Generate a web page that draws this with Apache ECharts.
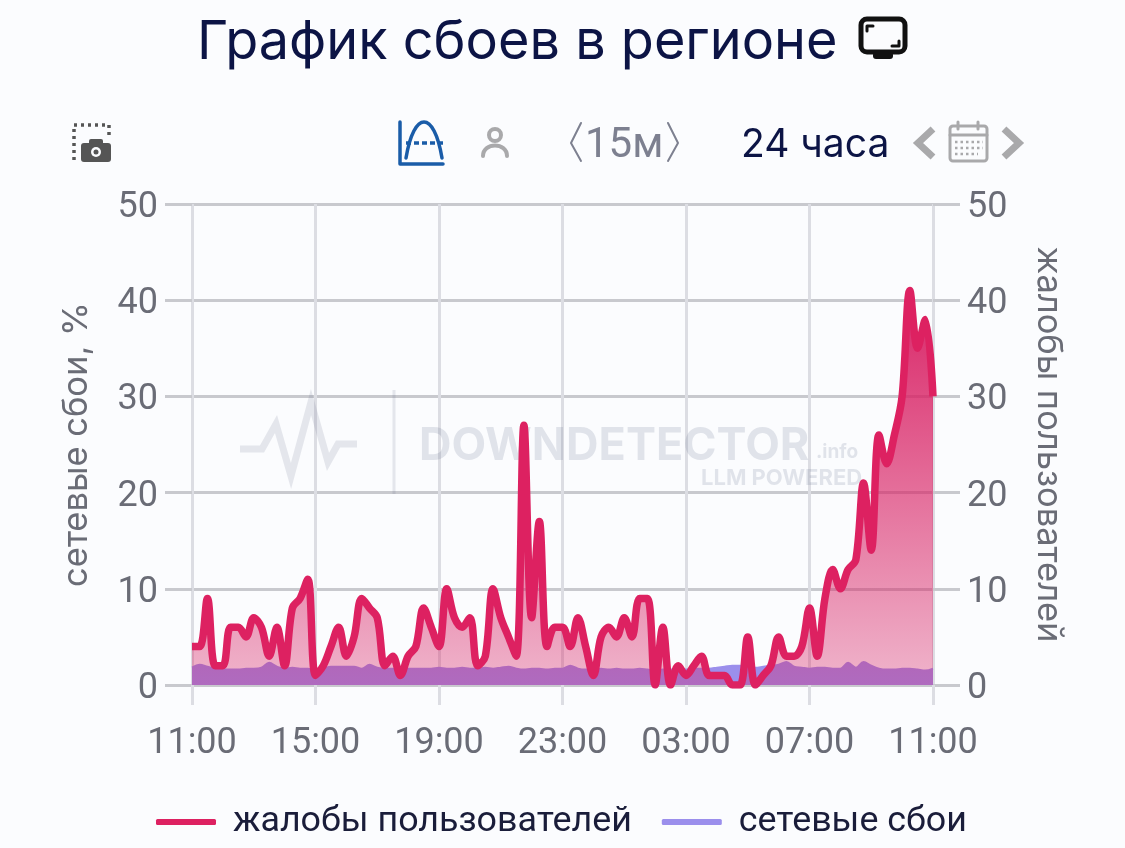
<!DOCTYPE html>
<html>
<head>
<meta charset="utf-8">
<title>График сбоев в регионе</title>
<script src="https://cdn.jsdelivr.net/npm/echarts@6/dist/echarts.min.js"></script>
<style>
  html, body { margin: 0; padding: 0; background: #fbfcfe; }
  #chart { width: 1125px; height: 848px; }
</style>
</head>
<body>
<div id="chart"></div>
<script>
var titleText = 'График сбоев в регионе';
var leftAxisName = 'сетевые сбои, %';
var rightAxisName = 'жалобы пользователей';
var complaintsName = 'жалобы пользователей';
var outagesName = 'сетевые сбои';

// 15 минутные отсчеты за сутки, с 11:00 до 11:00
var times = [];
for (var i = 0; i <= 96; i++) {
  var mins = (11 * 60 + i * 15) % 1440;
  var hh = Math.floor(mins / 60), mm = mins % 60;
  times.push((hh < 10 ? '0' : '') + hh + ':' + (mm < 10 ? '0' : '') + mm);
}

var complaints = [
  4, 4, 9, 2, 2, 6, 6, 5, 7, 6, 3, 6, 2, 8, 9, 11,
  1, 2, 4, 6, 3, 5, 9, 8, 7, 2, 3, 1, 3, 4, 8, 6,
  4, 10, 7, 6, 7, 2, 3, 10, 7, 5, 3, 27, 7, 17, 4, 6,
  6, 4, 7, 4, 1, 5, 6, 5, 7, 5, 9, 9, 0, 6, 0, 2,
  1, 2, 3, 1, 1, 1, 0, 0, 5, 0, 1, 2, 5, 3, 3, 4,
  8, 3, 9, 12, 10, 12, 13, 21, 14, 26, 23, 26, 30, 41, 35, 38,
  30
];
var outages = [
  1.8, 2.1, 1.9, 1.7, 1.6, 1.6, 1.6, 1.7, 1.7, 1.8, 2.3, 1.9, 1.7, 1.8, 1.7, 1.7,
  1.6, 1.7, 1.9, 1.9, 1.9, 1.9, 1.7, 2.1, 1.8, 1.7, 1.7, 1.7, 1.7, 1.7, 1.7, 1.7,
  1.8, 1.7, 1.7, 1.8, 1.7, 1.7, 1.8, 1.7, 1.8, 1.9, 1.7, 1.6, 1.7, 1.7, 1.6, 1.7,
  1.7, 2.0, 1.7, 1.6, 1.6, 1.7, 1.6, 1.7, 1.6, 1.6, 1.7, 1.6, 1.5, 1.6, 1.6, 1.6,
  1.6, 1.7, 1.7, 1.7, 1.8, 1.9, 2.0, 2.0, 1.9, 1.8, 1.9, 2.0, 2.1, 2.4, 1.9, 1.8,
  1.7, 1.8, 1.8, 1.7, 1.7, 2.3, 1.8, 2.4, 2.0, 1.7, 1.6, 1.6, 1.7, 1.7, 1.6, 1.5,
  1.7
];

var ink = '#0c1445';
var muted = '#6a6c76';
var uiFont = 'Inter, Roboto, sans-serif';
var tickFont = 'Roboto, Inter, sans-serif';

function stroke(color, width) {
  return { stroke: color, lineWidth: width, fill: null, lineCap: 'round', lineJoin: 'round' };
}

var toolbarIcons = [
  // заголовок: монитор
  { type: 'rect', shape: { x: 861, y: 19, width: 44, height: 33, r: 6 }, style: stroke('#111', 5) },
  { type: 'rect', shape: { x: 873, y: 52, width: 20, height: 7, r: 3 }, style: { fill: '#111' } },
  { type: 'polyline', shape: { points: [[867, 31], [867, 26], [873, 26]] }, style: stroke('#111', 3) },
  { type: 'polyline', shape: { points: [[899, 41], [899, 46], [892, 46]] }, style: stroke('#111', 3) },
  // скриншот
  { type: 'polyline', shape: { points: [[74, 160], [74, 125], [109, 125], [109, 138]] }, style: { stroke: '#555', lineWidth: 3.5, fill: null, lineDash: [3, 4] } },
  { type: 'rect', shape: { x: 81, y: 143, width: 30, height: 19, r: 3 }, style: { fill: '#555' } },
  { type: 'rect', shape: { x: 89, y: 139, width: 14, height: 6, r: 2 }, style: { fill: '#555' } },
  { type: 'circle', shape: { cx: 96, cy: 152, r: 5 }, style: { fill: '#fbfcfe' } },
  { type: 'circle', shape: { cx: 96, cy: 152, r: 2.5 }, style: { fill: '#555' } },
  // кривая
  { type: 'polyline', shape: { points: [[400, 122], [400, 164], [443, 164]] }, style: stroke('#1a5ca8', 3.5) },
  { type: 'bezierCurve', shape: { x1: 406, y1: 158, cpx1: 414, cpy1: 110, cpx2: 434, cpy2: 110, x2: 442, y2: 158 }, style: stroke('#1a5ca8', 3.5) },
  { type: 'line', shape: { x1: 406, y1: 143, x2: 443, y2: 143 }, style: { stroke: '#1a5ca8', lineWidth: 3.5, lineDash: [5, 3] } },
  // пользователь
  { type: 'circle', shape: { cx: 495, cy: 135, r: 6 }, style: stroke('#a9a9ab', 4) },
  { type: 'bezierCurve', shape: { x1: 483, y1: 156, cpx1: 483, cpy1: 142, cpx2: 507, cpy2: 142, x2: 507, y2: 156 }, style: stroke('#a9a9ab', 4) },
  // шаг
  { type: 'polyline', shape: { points: [[581, 123], [571, 143], [581, 161]] }, style: stroke('#7d8090', 2) },
  { type: 'polyline', shape: { points: [[668, 123], [678, 143], [668, 161]] }, style: stroke('#7d8090', 2) },
  { type: 'text', style: { text: '15м', x: 585, y: 146, fill: '#7d8090', font: '42px ' + tickFont, verticalAlign: 'middle' } },
  { type: 'text', style: { text: '24 часа', x: 741, y: 145, fill: ink, font: '39px ' + uiFont, verticalAlign: 'middle' } },
  // календарь
  { type: 'polyline', shape: { points: [[933, 129], [918, 143], [933, 157]] }, style: { stroke: '#a9a9ab', lineWidth: 7, fill: null } },
  { type: 'polyline', shape: { points: [[1004, 129], [1019, 143], [1004, 157]] }, style: { stroke: '#a9a9ab', lineWidth: 7, fill: null } },
  { type: 'rect', shape: { x: 950, y: 126, width: 37, height: 35, r: 3 }, style: stroke('#a9a9ab', 3) },
  { type: 'line', shape: { x1: 950, y1: 135, x2: 987, y2: 135 }, style: stroke('#a9a9ab', 3) },
  { type: 'line', shape: { x1: 958, y1: 122, x2: 958, y2: 129 }, style: stroke('#a9a9ab', 3) },
  { type: 'line', shape: { x1: 978, y1: 122, x2: 978, y2: 129 }, style: stroke('#a9a9ab', 3) },
  { type: 'line', shape: { x1: 955, y1: 142, x2: 983, y2: 142 }, style: { stroke: '#a9a9ab', lineWidth: 2.5, lineDash: [2.5, 3] } },
  { type: 'line', shape: { x1: 955, y1: 148, x2: 983, y2: 148 }, style: { stroke: '#a9a9ab', lineWidth: 2.5, lineDash: [2.5, 3] } },
  { type: 'line', shape: { x1: 955, y1: 154, x2: 978, y2: 154 }, style: { stroke: '#a9a9ab', lineWidth: 2.5, lineDash: [2.5, 3] } },
  // водяной знак
  { type: 'polyline', z: 1, shape: { points: [[240, 449], [262, 449], [276, 424], [291, 476], [311, 402], [328, 462], [338, 444], [357, 444]] }, style: { stroke: 'rgba(90,100,130,0.14)', lineWidth: 7, fill: null } },
  { type: 'line', z: 1, shape: { x1: 394, y1: 390, x2: 394, y2: 494 }, style: { stroke: 'rgba(90,100,130,0.14)', lineWidth: 3 } },
  { type: 'text', z: 1, style: { text: 'DOWNDETECTOR', x: 419, y: 446, fill: 'rgba(90,100,130,0.16)', font: 'bold 45px ' + uiFont, verticalAlign: 'middle' } },
  { type: 'text', z: 1, style: { text: '.info', x: 816, y: 452, fill: 'rgba(90,100,130,0.16)', font: 'bold 19px ' + uiFont, verticalAlign: 'middle' } },
  { type: 'text', z: 1, style: { text: 'LLM POWERED', x: 701, y: 478, fill: 'rgba(90,100,130,0.16)', font: 'bold 22px ' + uiFont, verticalAlign: 'middle' } }
];

// подписи оси Y чуть ниже засечки
var yLabel = {
  margin: 34,
  formatter: '{v|{value}}',
  rich: { v: { color: muted, fontSize: 36, fontFamily: tickFont, padding: [8, 0, 0, 0] } }
};

var option = {
  backgroundColor: '#fbfcfe',
  animation: false,
  textStyle: { fontFamily: uiFont },
  title: {
    text: titleText,
    left: 192,
    top: 11,
    textStyle: { color: ink, fontSize: 54, fontWeight: 'normal', fontFamily: uiFont }
  },
  legend: {
    left: 151,
    top: 799,
    itemWidth: 60,
    itemHeight: 6,
    itemGap: 30,
    icon: 'roundRect',
    textStyle: { color: '#1a1d3a', fontSize: 35.8, fontFamily: tickFont, padding: [0, 0, 0, 12] },
    data: [complaintsName, outagesName]
  },
  grid: { left: 192, right: 192, top: 204, bottom: 163 },
  xAxis: {
    type: 'category',
    boundaryGap: false,
    data: times,
    axisLine: { show: false },
    axisTick: { show: true, alignWithLabel: true, interval: 15, length: 20, lineStyle: { color: '#dcdde3', width: 3 } },
    splitLine: { show: true, interval: 15, lineStyle: { color: '#dcdde3', width: 3 } },
    axisLabel: { interval: 15, margin: 41, color: muted, fontSize: 36, fontFamily: tickFont }
  },
  yAxis: [
    {
      type: 'value',
      min: 0,
      max: 50,
      interval: 10,
      name: leftAxisName,
      nameLocation: 'middle',
      nameRotate: 90,
      nameGap: 98,
      nameTextStyle: { color: muted, fontSize: 34.5, fontFamily: uiFont },
      axisLine: { show: false },
      axisTick: { show: true, length: 27, lineStyle: { color: '#c8c9ce', width: 3 } },
      splitLine: { show: true, lineStyle: { color: '#c8c9ce', width: 3 } },
      axisLabel: yLabel
    },
    {
      type: 'value',
      min: 0,
      max: 50,
      interval: 10,
      name: rightAxisName,
      nameLocation: 'middle',
      nameRotate: -90,
      nameGap: 98,
      nameTextStyle: { color: muted, fontSize: 34.5, fontFamily: uiFont },
      axisLine: { show: false },
      axisTick: { show: true, length: 27, lineStyle: { color: '#c8c9ce', width: 3 } },
      splitLine: { show: false },
      axisLabel: yLabel
    }
  ],
  graphic: { elements: toolbarIcons },
  series: [
    {
      name: outagesName,
      type: 'line',
      yAxisIndex: 0,
      z: 2,
      smooth: 0.35,
      symbol: 'none',
      color: '#9b8fec',
      lineStyle: { color: '#9b8fec', width: 2 },
      areaStyle: { color: '#9b8fec', opacity: 1 },
      data: outages
    },
    {
      name: complaintsName,
      type: 'line',
      yAxisIndex: 1,
      z: 3,
      smooth: 0.35,
      symbol: 'none',
      color: '#dd2161',
      lineStyle: { color: '#dd2161', width: 7.5, cap: 'butt', join: 'round' },
      areaStyle: {
        opacity: 1,
        color: new echarts.graphic.LinearGradient(0, 0, 0, 1, [
          { offset: 0, color: 'rgba(216,30,98,0.97)' },
          { offset: 1, color: 'rgba(216,34,100,0.33)' }
        ])
      },
      data: complaints
    }
  ]
};

var myChart = echarts.init(document.getElementById('chart'));
myChart.setOption(option);
</script>
</body>
</html>
